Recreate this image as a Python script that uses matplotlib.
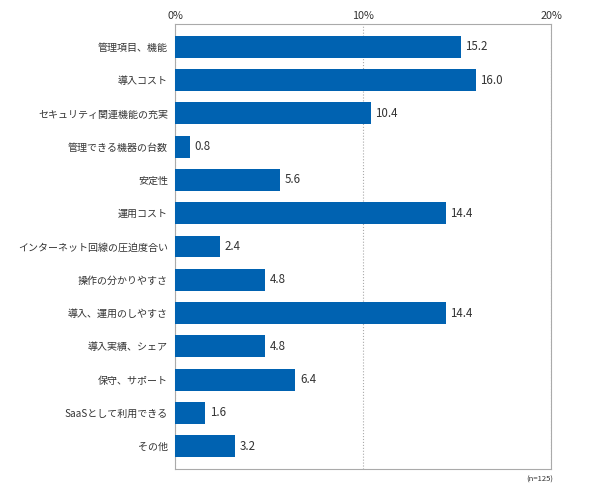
import numpy as np
import matplotlib.pyplot as plt

plt.rcParams['font.family'] = ['Noto Sans CJK JP', 'DejaVu Sans']

# Data
labels = ["管理項目、機能", "導入コスト", "セキュリティ関連機能の充実", "管理できる機器の台数",
          "安定性", "運用コスト", "インターネット回線の圧迫度合い", "操作の分かりやすさ",
          "導入、運用のしやすさ", "導入実績、シェア", "保守、サポート", "SaaSとして利用できる", "その他"]
values = [15.2, 16.0, 10.4, 0.8, 5.6, 14.4, 2.4, 4.8, 14.4, 4.8, 6.4, 1.6, 3.2]
xticks = [0, 10, 20]
note = "(n=125)"

bar_color = "#0062B1"
text_color = "#333333"

fig = plt.figure(figsize=(5.9, 4.91), dpi=100)
ax = fig.add_axes([175/590, 1-469/491, (551-175)/590, (469-24)/491])

y = np.arange(len(labels))
ax.barh(y, values, height=0.66, color=bar_color, zorder=3)
for yi, v in zip(y, values):
    ax.text(v + 0.25, yi, f"{v:.1f}", va="center", ha="left", fontsize=8.3, color=text_color)

ax.set_xlim(0, 20)
ax.set_ylim(len(labels) - 0.31, -0.69)
ax.set_yticks(y)
ax.set_yticklabels(labels, fontsize=7.2, color=text_color)
ax.set_xticks(xticks)
ax.set_xticklabels([f"{t}%" for t in xticks], fontsize=7.8, color=text_color)
ax.xaxis.tick_top()
ax.tick_params(axis="x", length=0, pad=2)
ax.tick_params(axis="y", length=0, pad=5)

ax.xaxis.grid(True, linestyle=":", color="#aaaaaa", linewidth=0.8, zorder=0)
for s in ax.spines.values():
    s.set_color("#aaaaaa")
    s.set_linewidth(0.8)

fig.text(553/590, 1-480/491, note, ha="right", va="center", fontsize=5.5, color=text_color)

fig.savefig("out.png", dpi=100)
